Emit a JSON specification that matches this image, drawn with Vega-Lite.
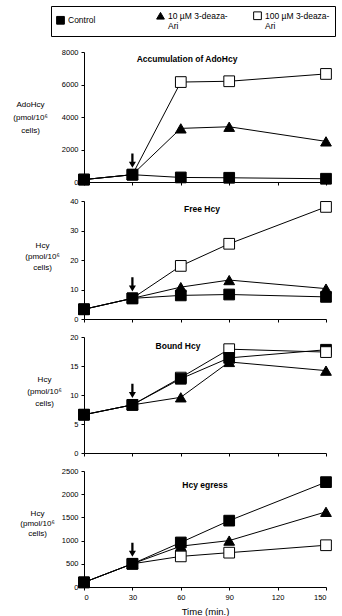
{
  "$schema": "https://vega.github.io/schema/vega-lite/v6.json",
  "padding": {"left": 12, "top": 5, "right": 5, "bottom": 2},
  "background": "white",
  "spacing": 10,
  "config": {
    "view": {"stroke": null},
    "font": "Liberation Sans",
    "axis": {"domainColor": "black", "tickColor": "black", "labelColor": "black", "titleColor": "black", "grid": false, "labelFontSize": 7.5, "titleFontSize": 8, "titleFontWeight": "normal", "tickSize": 3, "labelPadding": 3, "format": "d"},
    "title": {"fontSize": 8.5, "fontWeight": "bold", "color": "black", "anchor": "middle"},
    "legend": {"orient": "none", "legendX": -33, "legendY": -46, "direction": "horizontal", "columns": 3, "gridAlign": "each", "strokeColor": "black", "padding": 5, "labelFontSize": 8.5, "labelColor": "black", "symbolStrokeColor": "black", "symbolStrokeWidth": 1, "symbolSize": 60, "columnPadding": 23, "title": null, "labelLimit": 200, "labelOffset": 3}
  },
  "datasets": {
    "d": [
      {"panel": "A", "series": "100 µM 3-deaza-Ari", "time": 0, "value": 150},
      {"panel": "A", "series": "100 µM 3-deaza-Ari", "time": 30, "value": 450},
      {"panel": "A", "series": "100 µM 3-deaza-Ari", "time": 60, "value": 6150},
      {"panel": "A", "series": "100 µM 3-deaza-Ari", "time": 90, "value": 6200},
      {"panel": "A", "series": "100 µM 3-deaza-Ari", "time": 150, "value": 6650},
      {"panel": "A", "series": "10 µM 3-deaza-Ari", "time": 0, "value": 150},
      {"panel": "A", "series": "10 µM 3-deaza-Ari", "time": 30, "value": 450},
      {"panel": "A", "series": "10 µM 3-deaza-Ari", "time": 60, "value": 3300},
      {"panel": "A", "series": "10 µM 3-deaza-Ari", "time": 90, "value": 3400},
      {"panel": "A", "series": "10 µM 3-deaza-Ari", "time": 150, "value": 2500},
      {"panel": "A", "series": "Control", "time": 0, "value": 150},
      {"panel": "A", "series": "Control", "time": 30, "value": 450},
      {"panel": "A", "series": "Control", "time": 60, "value": 280},
      {"panel": "A", "series": "Control", "time": 90, "value": 260},
      {"panel": "A", "series": "Control", "time": 150, "value": 200},
      {"panel": "B", "series": "100 µM 3-deaza-Ari", "time": 0, "value": 3.3},
      {"panel": "B", "series": "100 µM 3-deaza-Ari", "time": 30, "value": 7},
      {"panel": "B", "series": "100 µM 3-deaza-Ari", "time": 60, "value": 18},
      {"panel": "B", "series": "100 µM 3-deaza-Ari", "time": 90, "value": 25.5},
      {"panel": "B", "series": "100 µM 3-deaza-Ari", "time": 150, "value": 38},
      {"panel": "B", "series": "10 µM 3-deaza-Ari", "time": 0, "value": 3.3},
      {"panel": "B", "series": "10 µM 3-deaza-Ari", "time": 30, "value": 7},
      {"panel": "B", "series": "10 µM 3-deaza-Ari", "time": 60, "value": 10.8},
      {"panel": "B", "series": "10 µM 3-deaza-Ari", "time": 90, "value": 13.2},
      {"panel": "B", "series": "10 µM 3-deaza-Ari", "time": 150, "value": 10.3},
      {"panel": "B", "series": "Control", "time": 0, "value": 3.3},
      {"panel": "B", "series": "Control", "time": 30, "value": 7},
      {"panel": "B", "series": "Control", "time": 60, "value": 8},
      {"panel": "B", "series": "Control", "time": 90, "value": 8.3},
      {"panel": "B", "series": "Control", "time": 150, "value": 7.5},
      {"panel": "C", "series": "Control", "time": 150, "value": 17.8},
      {"panel": "C", "series": "100 µM 3-deaza-Ari", "time": 0, "value": 6.6},
      {"panel": "C", "series": "100 µM 3-deaza-Ari", "time": 30, "value": 8.3},
      {"panel": "C", "series": "100 µM 3-deaza-Ari", "time": 60, "value": 13.0},
      {"panel": "C", "series": "100 µM 3-deaza-Ari", "time": 90, "value": 17.9},
      {"panel": "C", "series": "100 µM 3-deaza-Ari", "time": 150, "value": 17.4},
      {"panel": "C", "series": "10 µM 3-deaza-Ari", "time": 0, "value": 6.6},
      {"panel": "C", "series": "10 µM 3-deaza-Ari", "time": 30, "value": 8.3},
      {"panel": "C", "series": "10 µM 3-deaza-Ari", "time": 60, "value": 9.6},
      {"panel": "C", "series": "10 µM 3-deaza-Ari", "time": 90, "value": 15.7},
      {"panel": "C", "series": "10 µM 3-deaza-Ari", "time": 150, "value": 14.2},
      {"panel": "C", "series": "Control", "time": 0, "value": 6.6},
      {"panel": "C", "series": "Control", "time": 30, "value": 8.3},
      {"panel": "C", "series": "Control", "time": 60, "value": 12.8},
      {"panel": "C", "series": "Control", "time": 90, "value": 16.4},
      {"panel": "D", "series": "100 µM 3-deaza-Ari", "time": 0, "value": 100},
      {"panel": "D", "series": "100 µM 3-deaza-Ari", "time": 30, "value": 500},
      {"panel": "D", "series": "100 µM 3-deaza-Ari", "time": 60, "value": 660},
      {"panel": "D", "series": "100 µM 3-deaza-Ari", "time": 90, "value": 740},
      {"panel": "D", "series": "100 µM 3-deaza-Ari", "time": 150, "value": 900},
      {"panel": "D", "series": "10 µM 3-deaza-Ari", "time": 0, "value": 100},
      {"panel": "D", "series": "10 µM 3-deaza-Ari", "time": 30, "value": 500},
      {"panel": "D", "series": "10 µM 3-deaza-Ari", "time": 60, "value": 880},
      {"panel": "D", "series": "10 µM 3-deaza-Ari", "time": 90, "value": 1000},
      {"panel": "D", "series": "10 µM 3-deaza-Ari", "time": 150, "value": 1620},
      {"panel": "D", "series": "Control", "time": 0, "value": 100},
      {"panel": "D", "series": "Control", "time": 30, "value": 500},
      {"panel": "D", "series": "Control", "time": 60, "value": 960},
      {"panel": "D", "series": "Control", "time": 90, "value": 1430},
      {"panel": "D", "series": "Control", "time": 150, "value": 2260}
    ]
  },
  "data": {"name": "d"},
  "vconcat": [
    {
      "width": 242, "height": 130,
      "title": {"text": "Accumulation of AdoHcy", "offset": -15, "dx": -18},
      "transform": [{"filter": "datum.panel == 'A'"}],
      "encoding": {
        "x": {"field": "time", "type": "quantitative", "scale": {"domain": [0, 150]}, "axis": {"values": [0, 30, 60, 90, 120, 150], "labels": false, "title": null}},
        "y": {"field": "value", "type": "quantitative", "scale": {"domain": [0, 8000]}, "axis": {"values": [0, 2000, 4000, 6000, 8000], "title": ["AdoHcy", "(pmol/10⁶", "cells)"], "titleAngle": 0, "titleAlign": "center", "titleBaseline": "middle", "titleX": -54, "titleY": 52, "titleLineHeight": 13}}
      },
      "layer": [
        {"mark": {"type": "line", "color": "black", "strokeWidth": 1}, "encoding": {"detail": {"field": "series"}}},
        {"mark": {"type": "point", "strokeWidth": 1, "size": 115, "opacity": 1},
         "encoding": {
           "shape": {"field": "series", "type": "nominal", "scale": {"domain": ["Control", "10 µM 3-deaza-Ari", "100 µM 3-deaza-Ari"], "range": ["square", "triangle-up", "square"]}, "legend": {"labelExpr": "datum.label == 'Control' ? 'Control\u2800\u2800\u2800\u2800\u2800' : [replace(datum.label, 'Ari', ''), 'Ari']"}},
           "fill": {"field": "series", "type": "nominal", "scale": {"domain": ["Control", "10 µM 3-deaza-Ari", "100 µM 3-deaza-Ari"], "range": ["black", "black", "white"]}, "legend": {"labelExpr": "datum.label == 'Control' ? 'Control\u2800\u2800\u2800\u2800\u2800' : [replace(datum.label, 'Ari', ''), 'Ari']"}},
           "stroke": {"field": "series", "type": "nominal", "scale": {"domain": ["Control", "10 µM 3-deaza-Ari", "100 µM 3-deaza-Ari"], "range": ["black", "black", "black"]}, "legend": {"labelExpr": "datum.label == 'Control' ? 'Control\u2800\u2800\u2800\u2800\u2800' : [replace(datum.label, 'Ari', ''), 'Ari']"}}
         }},
        {"transform": [{"filter": "datum.series == 'Control' && datum.time == 30"}],
         "mark": {"type": "point", "shape": "M-0.16,-1 L0.16,-1 L0.16,0.15 L0.5,0.15 L0,1 L-0.5,0.15 L-0.16,0.15 Z", "filled": true, "color": "black", "opacity": 1, "size": 200, "yOffset": -14}}
      ]
    },
    {
      "width": 242, "height": 118,
      "title": {"text": "Free Hcy", "offset": -16, "dx": -3},
      "transform": [{"filter": "datum.panel == 'B'"}],
      "encoding": {
        "x": {"field": "time", "type": "quantitative", "scale": {"domain": [0, 150]}, "axis": {"values": [0, 30, 60, 90, 120, 150], "labels": false, "title": null}},
        "y": {"field": "value", "type": "quantitative", "scale": {"domain": [0, 40]}, "axis": {"values": [0, 10, 20, 30, 40], "title": ["Hcy", "(pmol/10⁶", "cells)"], "titleAngle": 0, "titleAlign": "center", "titleBaseline": "middle", "titleX": -42, "titleY": 44, "titleLineHeight": 11}}
      },
      "layer": [
        {"mark": {"type": "line", "color": "black", "strokeWidth": 1}, "encoding": {"detail": {"field": "series"}}},
        {"mark": {"type": "point", "strokeWidth": 1, "size": 115, "opacity": 1},
         "encoding": {
           "shape": {"field": "series", "type": "nominal"},
           "fill": {"field": "series", "type": "nominal"},
           "stroke": {"field": "series", "type": "nominal"}
         }},
        {"transform": [{"filter": "datum.series == 'Control' && datum.time == 30"}],
         "mark": {"type": "point", "shape": "M-0.16,-1 L0.16,-1 L0.16,0.15 L0.5,0.15 L0,1 L-0.5,0.15 L-0.16,0.15 Z", "filled": true, "color": "black", "opacity": 1, "size": 200, "yOffset": -14}}
      ]
    },
    {
      "width": 242, "height": 116,
      "title": {"text": "Bound Hcy", "offset": -17, "dx": -27},
      "transform": [{"filter": "datum.panel == 'C'"}],
      "encoding": {
        "x": {"field": "time", "type": "quantitative", "scale": {"domain": [0, 150]}, "axis": {"values": [0, 30, 60, 90, 120, 150], "labels": false, "title": null}},
        "y": {"field": "value", "type": "quantitative", "scale": {"domain": [0, 20]}, "axis": {"values": [0, 5, 10, 15, 20], "title": ["Hcy", "(pmol/10⁶", "cells)"], "titleAngle": 0, "titleAlign": "center", "titleBaseline": "middle", "titleX": -40, "titleY": 42, "titleLineHeight": 12}}
      },
      "layer": [
        {"mark": {"type": "line", "color": "black", "strokeWidth": 1}, "encoding": {"detail": {"field": "series"}}},
        {"mark": {"type": "point", "strokeWidth": 1, "size": 115, "opacity": 1},
         "encoding": {
           "shape": {"field": "series", "type": "nominal"},
           "fill": {"field": "series", "type": "nominal"},
           "stroke": {"field": "series", "type": "nominal"}
         }},
        {"transform": [{"filter": "datum.series == 'Control' && datum.time == 30"}],
         "mark": {"type": "point", "shape": "M-0.16,-1 L0.16,-1 L0.16,0.15 L0.5,0.15 L0,1 L-0.5,0.15 L-0.16,0.15 Z", "filled": true, "color": "black", "opacity": 1, "size": 200, "yOffset": -14}}
      ]
    },
    {
      "width": 242, "height": 116,
      "title": {"text": "Hcy egress", "offset": -22, "dx": 0},
      "transform": [{"filter": "datum.panel == 'D'"}],
      "encoding": {
        "x": {"field": "time", "type": "quantitative", "scale": {"domain": [0, 150]}, "axis": {"values": [0, 30, 60, 90, 120, 150], "title": "Time (min.)", "titlePadding": 6, "titleFontSize": 9.5}},
        "y": {"field": "value", "type": "quantitative", "scale": {"domain": [0, 2500]}, "axis": {"values": [0, 500, 1000, 1500, 2000, 2500], "title": ["Hcy", "(pmol/10⁶", "cells)"], "titleAngle": 0, "titleAlign": "center", "titleBaseline": "middle", "titleX": -47, "titleY": 42, "titleLineHeight": 10}}
      },
      "layer": [
        {"mark": {"type": "line", "color": "black", "strokeWidth": 1}, "encoding": {"detail": {"field": "series"}}},
        {"mark": {"type": "point", "strokeWidth": 1, "size": 115, "opacity": 1},
         "encoding": {
           "shape": {"field": "series", "type": "nominal"},
           "fill": {"field": "series", "type": "nominal"},
           "stroke": {"field": "series", "type": "nominal"}
         }},
        {"transform": [{"filter": "datum.series == 'Control' && datum.time == 30"}],
         "mark": {"type": "point", "shape": "M-0.16,-1 L0.16,-1 L0.16,0.15 L0.5,0.15 L0,1 L-0.5,0.15 L-0.16,0.15 Z", "filled": true, "color": "black", "opacity": 1, "size": 200, "yOffset": -14}}
      ]
    }
  ]
}
